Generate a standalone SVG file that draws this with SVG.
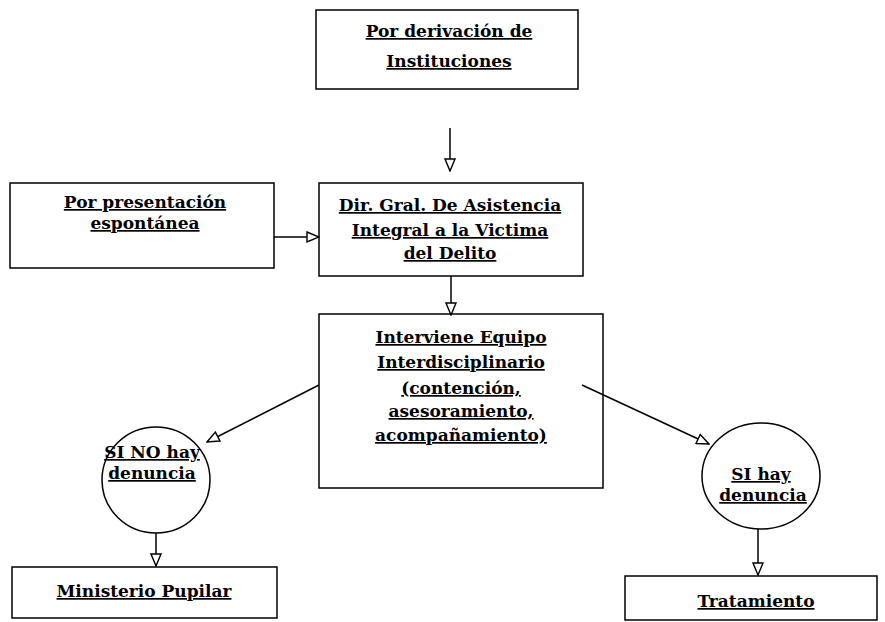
<svg xmlns="http://www.w3.org/2000/svg" width="885" height="622" viewBox="0 0 885 622">
<defs>
<style>
.box{fill:#fff;stroke:#000;stroke-width:1.5}
.t{font-family:"DejaVu Serif","Liberation Serif",serif;font-weight:bold;font-size:17px;fill:#000;text-anchor:middle;text-decoration:underline}
.c{fill:none;stroke:#000;stroke-width:1.5}
</style>
<marker id="ah" viewBox="0 0 14 12" refX="13" refY="6" markerWidth="14" markerHeight="12" markerUnits="userSpaceOnUse" orient="auto">
<path d="M1,1 L13,6 L1,11 Z" fill="#fff" stroke="#000" stroke-width="1.4"/>
</marker>
</defs>
<rect width="885" height="622" fill="#fff"/>
<g id="n1">
<rect class="box" x="316" y="10" width="262" height="79"/>
<text class="t" x="449" y="37">Por derivación de</text>
<text class="t" x="449" y="67">Instituciones</text>
</g>
<g id="n2">
<rect class="box" x="10" y="183" width="264" height="85"/>
<text class="t" x="145" y="208">Por presentación</text>
<text class="t" x="145" y="229">espontánea</text>
</g>
<g id="n3">
<rect class="box" x="319" y="183" width="264" height="93"/>
<text class="t" x="450" y="211">Dir. Gral. De Asistencia</text>
<text class="t" x="450" y="236">Integral a la Victima</text>
<text class="t" x="450" y="259">del Delito</text>
</g>
<g id="n4">
<rect class="box" x="319" y="314" width="284" height="174"/>
<text class="t" x="461" y="343">Interviene Equipo</text>
<text class="t" x="461" y="368">Interdisciplinario</text>
<text class="t" x="461" y="394">(contención,</text>
<text class="t" x="461" y="417">asesoramiento,</text>
<text class="t" x="461" y="441">acompañamiento)</text>
</g>
<g id="n5">
<ellipse class="box" cx="156" cy="480" rx="54" ry="53"/>
<text class="t" x="152" y="458">SI NO hay</text>
<text class="t" x="152" y="479">denuncia</text>
</g>
<g id="n6">
<ellipse class="box" cx="761" cy="476" rx="59" ry="53"/>
<text class="t" x="761" y="480">SI hay</text>
<text class="t" x="763" y="501">denuncia</text>
</g>
<g id="n7">
<rect class="box" x="12" y="567" width="265" height="51"/>
<text class="t" x="144" y="597">Ministerio Pupilar</text>
</g>
<g id="n8">
<rect class="box" x="625" y="576" width="252" height="44"/>
<text class="t" x="756" y="607">Tratamiento</text>
</g>
<g id="connectors">
<line class="c" x1="450" y1="128" x2="450" y2="171" marker-end="url(#ah)"/>
<line class="c" x1="274" y1="237" x2="319" y2="237" marker-end="url(#ah)"/>
<line class="c" x1="451" y1="276" x2="451" y2="315" marker-end="url(#ah)"/>
<line class="c" x1="319" y1="385" x2="207" y2="442" marker-end="url(#ah)"/>
<line class="c" x1="582" y1="385" x2="709" y2="444" marker-end="url(#ah)"/>
<line class="c" x1="156" y1="533" x2="156" y2="566" marker-end="url(#ah)"/>
<line class="c" x1="758" y1="529" x2="758" y2="575" marker-end="url(#ah)"/>
</g>
</svg>
